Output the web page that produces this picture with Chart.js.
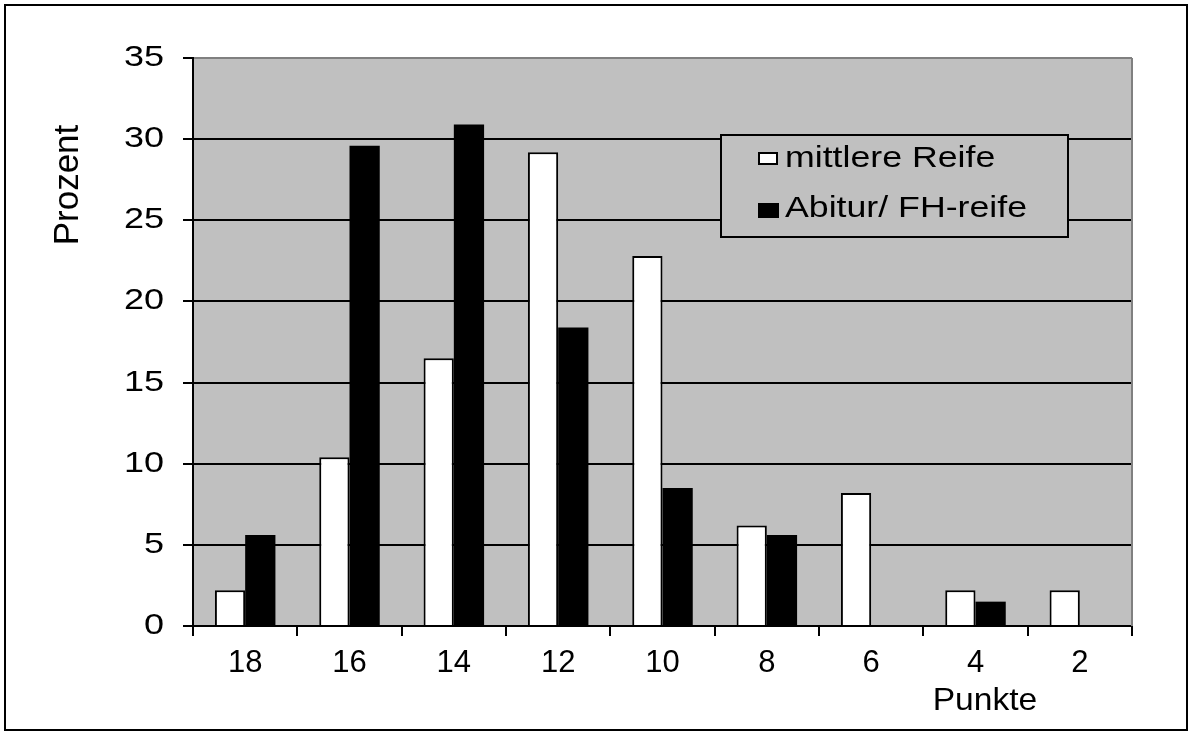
<!DOCTYPE html>
<html>
<head>
<meta charset="utf-8">
<script src="https://cdn.jsdelivr.net/npm/chart.js@4/dist/chart.umd.min.js"></script>
<style>
  html, body { margin: 0; padding: 0; background: #fff; }
  #wrap { width: 1192px; height: 735px; position: relative; }
</style>
</head>
<body>
<div id="wrap"><canvas id="chart" width="1192" height="735"></canvas></div>
<script>
// Punkte (categories), left to right as in the original
const punkte = ['18', '16', '14', '12', '10', '8', '6', '4', '2'];
// Prozent per series
const mittlereReife = [2.2, 10.4, 16.5, 29.2, 22.8, 6.2, 8.2, 2.2, 2.2];
const abiturFH = [5.6, 29.6, 30.9, 18.4, 8.5, 5.6, 0, 1.5, 0];
const seriesLabels = ['mittlere Reife', 'Abitur/ FH-reife'];
const yMax = 35;
const yStep = 5;

const FONT = '"Liberation Sans", Arial, sans-serif';

// the original text is a bit wider than Arial, so squeeze it out horizontally
function wideText(ctx, text, x, y, size, align, stretch) {
    ctx.save();
    ctx.font = size + 'px ' + FONT;
    ctx.fillStyle = '#000';
    ctx.textBaseline = 'alphabetic';
    ctx.textAlign = 'left';
    const w = ctx.measureText(text).width * stretch;
    let left = x;
    if (align === 'right') left = x - w;
    if (align === 'center') left = x - w / 2;
    ctx.translate(left, y);
    ctx.scale(stretch, 1);
    ctx.fillText(text, 0, 0);
    ctx.restore();
}

const framePlugin = {
    id: 'frame',
    beforeDraw(chart) {
        const { ctx, chartArea: a } = chart;
        ctx.save();
        ctx.fillStyle = '#fff';
        ctx.fillRect(0, 0, chart.width, chart.height);
        ctx.fillStyle = '#C0C0C0';
        ctx.fillRect(a.left, a.top, a.right - a.left, a.bottom - a.top);
        ctx.restore();
    },
    afterDraw(chart) {
        const { ctx, chartArea: a } = chart;
        ctx.save();
        // outer border
        ctx.strokeStyle = '#000';
        ctx.lineWidth = 2;
        ctx.strokeRect(5, 5, chart.width - 10, chart.height - 10);
        // right edge of plot area
        ctx.strokeStyle = '#808080';
        ctx.beginPath();
        ctx.moveTo(a.right, a.top);
        ctx.lineTo(a.right, a.bottom);
        ctx.stroke();
        ctx.restore();

        // y tick labels
        const ys = chart.scales.y;
        ys.ticks.forEach(t => {
            wideText(ctx, String(t.value), 164, ys.getPixelForValue(t.value) + 8, 30, 'right', 1.2);
        });

        // axis titles
        ctx.save();
        ctx.font = '35px ' + FONT;
        ctx.fillStyle = '#000';
        ctx.textAlign = 'center';
        ctx.textBaseline = 'alphabetic';
        ctx.translate(78, 185);
        ctx.rotate(-Math.PI / 2);
        ctx.fillText('Prozent', 0, 0);
        ctx.restore();
        wideText(ctx, 'Punkte', 985, 710, 32, 'center', 1.05);

        // legend box
        const box = { x: 721, y: 135, w: 347, h: 102 };
        ctx.save();
        ctx.fillStyle = '#C0C0C0';
        ctx.fillRect(box.x, box.y, box.w, box.h);
        ctx.strokeStyle = '#000';
        ctx.lineWidth = 2;
        ctx.strokeRect(box.x, box.y, box.w, box.h);
        const baselines = [167, 217];
        const swatches = [[758, 152, 20, 13], [758, 203, 21, 15]];
        chart.data.datasets.forEach((ds, i) => {
            const [sx, sy, sw, sh] = swatches[i];
            ctx.fillStyle = ds.backgroundColor;
            ctx.fillRect(sx, sy, sw, sh);
            if (ds.borderWidth) {
                ctx.strokeStyle = '#000';
                ctx.lineWidth = 2;
                ctx.strokeRect(sx + 1, sy + 1, sw - 2, sh - 2);
            }
            wideText(ctx, ds.label, 785, baselines[i], 30, 'left', 1.19);
        });
        ctx.restore();
    }
};

new Chart(document.getElementById('chart'), {
    type: 'bar',
    data: {
        labels: punkte,
        datasets: [
            {
                label: seriesLabels[0],
                data: mittlereReife,
                backgroundColor: '#FFFFFF',
                borderColor: '#000000',
                borderWidth: 2,
                borderSkipped: 'bottom'
            },
            {
                label: seriesLabels[1],
                data: abiturFH,
                backgroundColor: '#000000',
                borderColor: '#000000',
                borderWidth: 0
            }
        ]
    },
    options: {
        responsive: false,
        animation: false,
        layout: { padding: { top: 58, right: 60, left: 0, bottom: 0 } },
        datasets: { bar: { categoryPercentage: 0.58, barPercentage: 1.0 } },
        plugins: {
            legend: { display: false },
            tooltip: { enabled: false }
        },
        scales: {
            x: {
                afterFit: (s) => { s.height = 109; },
                grid: {
                    offset: true,
                    drawOnChartArea: false,
                    tickLength: 10,
                    color: '#000',
                    lineWidth: 2
                },
                border: { color: '#000', width: 2 },
                ticks: {
                    color: '#000',
                    padding: 9,
                    font: { family: FONT, size: 31 }
                }
            },
            y: {
                min: 0,
                max: yMax,
                afterFit: (s) => { s.width = 193; },
                grid: {
                    color: (c) => (c.tick && c.tick.value === yMax ? '#808080' : '#000'),
                    tickColor: '#000',
                    lineWidth: 2,
                    tickLength: 10
                },
                border: { color: '#000', width: 2 },
                ticks: {
                    stepSize: yStep,
                    color: 'rgba(0,0,0,0)',
                    font: { family: FONT, size: 19 }
                }
            }
        }
    },
    plugins: [framePlugin]
});
</script>
</body>
</html>
